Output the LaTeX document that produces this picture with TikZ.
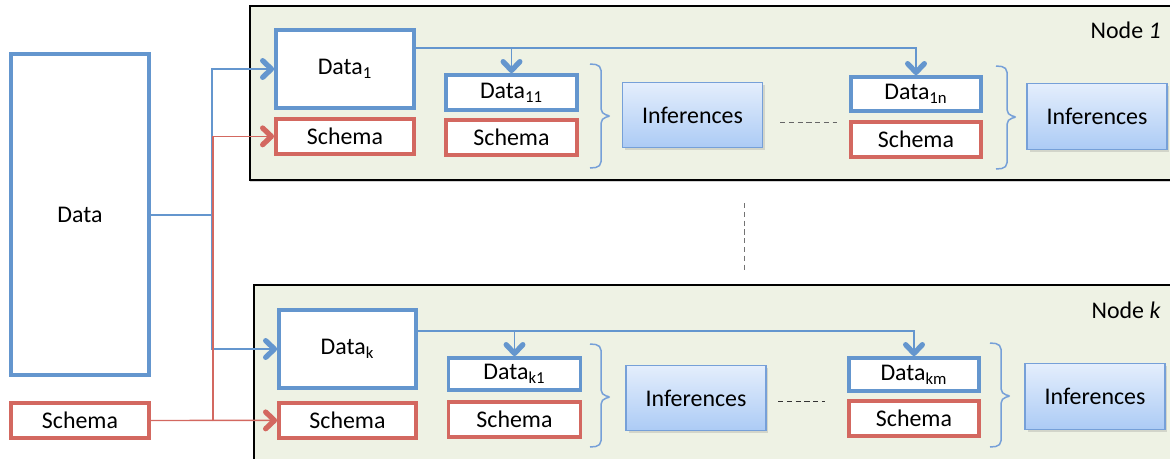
\documentclass[tikz,border=0pt]{standalone}
\usepackage{fontspec}
\setmainfont{Carlito}
\usetikzlibrary{arrows.meta, positioning, shadows}
\definecolor{datablue}{RGB}{100,150,206}
\definecolor{schemared}{RGB}{211,104,96}
\definecolor{framefill}{RGB}{238,242,228}
\definecolor{infertop}{RGB}{228,238,252}
\definecolor{inferbot}{RGB}{172,203,245}
\definecolor{inferline}{RGB}{118,160,216}
\tikzset{
    databox/.style={
        rectangle,
        draw=datablue,
        line width=2.2pt,
        minimum width=2.62cm,
        minimum height=0.7cm,
        inner sep=0pt,
        fill=white,
        font=\fontsize{13.6}{16}\selectfont
    },
    schemabox/.style={
        rectangle,
        draw=schemared,
        line width=2.2pt,
        minimum width=2.62cm,
        minimum height=0.7cm,
        inner sep=0pt,
        fill=white,
        font=\fontsize{13.6}{16}\selectfont
    },
    inference/.style={
        rectangle,
        draw=inferline,
        line width=0.7pt,
        minimum width=2.8cm,
        minimum height=1.3cm,
        top color=infertop,
        bottom color=inferbot,
        drop shadow={opacity=0.25, shadow xshift=0.05cm, shadow yshift=-0.05cm},
        font=\fontsize{13.6}{16}\selectfont
    },
    nodelabel/.style={
        anchor=east,
        inner sep=0pt,
        font=\fontsize{13.6}{16}\selectfont
    },
    frame/.style={
        draw=black,
        line width=1.2pt,
        fill=framefill,
        drop shadow={opacity=0.35, shadow xshift=0cm, shadow yshift=-0.04cm}
    },
    datalink/.style={
        draw=datablue,
        line width=0.7pt,
        -{Straight Barb[length=5pt, width=9.5pt, line width=3pt, round]}
    },
    schemalink/.style={
        draw=schemared,
        line width=0.8pt,
        -{Straight Barb[length=5pt, width=9.5pt, line width=3pt, round]}
    },
    group/.style={
        draw=inferline,
        line width=0.85pt,
        rounded corners=3pt
    },
    etc/.style={
        draw=black!60,
        line width=0.5pt,
        dash pattern=on 3pt off 2pt
    }
}
% right-pointing brace: x, top, middle, bottom
\newcommand\groupbrace[4]{%
    \draw[group] (#1,#2) -- (#1+11,#2+1) -- (#1+11,#3-2) -- (#1+22,#3) -- (#1+11,#3+2) -- (#1+11,#4-1) -- (#1,#4);}
\begin{document}
\begin{tikzpicture}[x=0.02cm, y=-0.02cm]
\path[use as bounding box, clip] (0,0) rectangle (1170,458);

% Node frames
\path[frame] (250,6) rectangle (1185,180);
\path[frame] (254,285) rectangle (1185,480);
\node[nodelabel] (label1) at (1161,30) {Node \textit{1}};
\node[nodelabel] (labelk) at (1161,310) {Node \textit{k}};

% Source (left)
\node[databox, minimum width=2.76cm, minimum height=6.42cm] (bigdata) at (80,214.5) {Data};
\node[schemabox, minimum width=2.76cm] (bigschema) at (80,420.5) {Schema};

% Node 1
\node[databox, minimum width=2.76cm, minimum height=1.56cm] (data1) at (345,69) {Data\textsubscript{1}};
\node[schemabox, minimum width=2.76cm, below=0.14cm of data1] (schema1) {Schema};
\node[databox] (data11) at (511.5,92.5) {Data\textsubscript{11}};
\node[schemabox, below=0.12cm of data11] (schema11) {Schema};
\node[inference] (infer11) at (692.5,115) {Inferences};
\node[databox, minimum width=2.6cm, minimum height=0.68cm] (data1n) at (916,94) {Data\textsubscript{1n}};
\node[schemabox, minimum width=2.6cm, below=0.14cm of data1n] (schema1n) {Schema};
\node[inference, minimum height=1.32cm] (infer1n) at (1097,116.5) {Inferences};

% Node k
\node[databox, minimum width=2.74cm, minimum height=1.56cm] (datak) at (347.5,349) {Data\textsubscript{k}};
\node[schemabox, minimum width=2.74cm, below=0.22cm of datak] (schemak) {Schema};
\node[databox, minimum width=2.64cm, minimum height=0.64cm] (datak1) at (514.5,374) {Data\textsubscript{k1}};
\node[schemabox, minimum width=2.64cm, below=0.16cm of datak1] (schemak1) {Schema};
\node[inference] (inferk1) at (696,398) {Inferences};
\node[databox, minimum width=2.6cm, minimum height=0.66cm] (datakm) at (914,374.5) {Data\textsubscript{km}};
\node[schemabox, minimum width=2.6cm, below=0.12cm of datakm] (schemakm) {Schema};
\node[inference, minimum height=1.32cm] (inferkm) at (1095,396.5) {Inferences};

% Partitioning
\coordinate (split) at (212,215);
\coordinate (rsplit) at (213,421);
\draw[datalink] (bigdata.east |- split) -- (split) |- (data1);
\draw[datalink] (split) |- (datak);
\draw[schemalink] (bigschema) -- (schemak);
\draw[schemalink] (rsplit) |- (schema1);

% Local data flow
\draw[datalink] (data1.east |- 0,48) -| (data11);
\draw[datalink] (data1.east |- 0,48) -| (data1n);
\draw[datalink] (datak.east |- 0,331) -| (datak1);
\draw[datalink] (datak.east |- 0,331) -| (datakm);

% Braces
\groupbrace{590}{64}{116}{168}
\groupbrace{996}{66}{117}{169}
\groupbrace{590}{344}{397}{447}
\groupbrace{990}{343}{396}{447}

% Ellipses
\draw[etc] (780,122) -- (837,122);
\draw[etc, draw=black!80] (778,401) -- (825,401);
\draw[etc, draw=black!55] (744,203) -- (744,273);

\end{tikzpicture}
\end{document}
